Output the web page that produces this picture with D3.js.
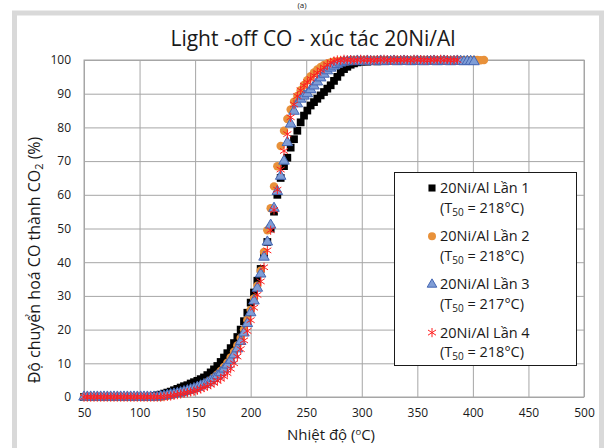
<!DOCTYPE html>
<html>
<head>
<meta charset="utf-8">
<script src="https://cdn.jsdelivr.net/npm/d3@7"></script>
<style>
  body { margin: 0; background: #fff; }
  text { font-family: "Open Sans", "Noto Sans", sans-serif; fill: #1a1a1a; }
</style>
</head>
<body>
<div id="chart"></div>
<script>
// temperature grid (°C), shared by all four runs
const temps = [50,53,56,59,62,65,68,71,74,77,80,83,86,89,92,95,98,101,104,107,110,113,116,119,122,125,128,131,134,137,140,143,146,149,152,155,158,161,164,167,170,173,176,179,182,185,188,191,194,197,200,203,206,209,212,215,218,221,224,227,230,233,236,239,242,245,248,251,254,257,260,263,266,269,272,275,278,281,284,287,290,293,296,299,302,305,308,311,314,317,320,323,326,329,332,335,338,341,344,347,350,353,356,359,362,365,368,371,374,377,380,383,386,389,392,395,398,401,404,407,410];

// conversion (%) per run
const run1 = [0,0,0,0,0,0,0,0,0,0,0,0,0,0,0,0,0,0,0,0,0,
  0.3,0.5,0.7,1,1.3,1.6,2,2.4,2.8,3.2,3.5,4,4.4,4.8,5.3,5.8,6.5,7.3,8.2,9.2,10.4,11.7,13,14.5,16,17.8,20,22.5,25,28,
  31,34.5,38,42,46,50,55,60,65,68.5,71,74,76.5,79,81.5,83.5,85,86.5,87.5,88.5,89.5,90.5,91.5,92.5,93.8,95,96.3,97.3,98,98.6,
  99,99.3,99.5,99.6,99.5,99.7,99.8,99.6,99.7,99.9,99.8,99.7,99.9,100,99.8,99.9,100,99.9,99.8,100,99.9,100,100,99.9,100,99.8,100,100,99.9,100,100,99.9,100];

const run2 = [0,0,0,0,0,0,0,0,0,0,0,0,0,0,0,0,0,0,0,0,0,0,0,0,
  0.2,0.4,0.6,0.8,1,1.2,1.5,1.8,2.1,2.4,2.8,3.3,3.8,4.4,5,5.8,6.7,7.7,8.9,10.2,11.7,13.4,15.3,17.5,20,22.8,25.8,29.2,33,37.5,
  43,49.5,56,62.5,68.5,74.5,79,82.5,85.3,87.6,89.3,91,92.6,94,95.2,96.3,97.2,97.9,98.5,99,99.3,99.5,99.6,
  99.7,99.8,99.6,99.9,100,99.8,99.9,100,99.7,99.9,100,99.9,100,99.8,100,99.9,100,100,99.9,100,99.8,100,99.9,100,100,99.9,100,99.8,100,99.9,100,100,99.9,100,99.9,100,100,99.8,100,99.9,100,100,99.9,100];

const run3 = [0,0,0,0,0,0,0,0,0,0,0,0,0,0,0,0,0,0,0,0,0,0,0,
  0.2,0.3,0.5,0.7,0.9,1.1,1.3,1.6,1.9,2.2,2.5,2.9,3.3,3.7,4.2,4.8,5.5,6.3,7.2,8.3,9.5,10.9,12.5,14.3,16.5,19,21.8,25,28.5,32.3,
  36.5,41.5,46,51,56,61,65.5,70,75.5,81,84.8,87,88.4,89.3,90,91.2,92.3,93.5,94.7,95.8,96.8,97.6,98.2,98.7,99.1,99.4,
  99.5,99.6,99.5,99.7,99.6,99.5,99.7,99.6,99.5,99.6,99.7,99.5,99.6,99.6,99.7,99.5,99.6,99.7,99.6,99.5,99.6,99.7,99.6,99.5,99.6,99.6,99.7,99.5,99.6,99.7,99.6,99.5,99.6,99.7,99.6,99.5,99.6,99.6,99.5];

const run4 = [0,0,0,0,0,0,0,0,0,0,0,0,0,0,0,0,0,0,0,0,0,0,0,0,
  0.1,0.2,0.3,0.5,0.7,0.9,1.1,1.3,1.5,1.7,2,2.4,2.8,3.2,3.7,4.2,4.8,5.4,6.1,7.1,8.4,10,12,14.2,16.8,19.6,22.8,26.5,30.3,34.3,
  38.5,43.5,49.5,55.5,61.5,67.5,73,78,83,86.8,89.3,91,92.4,93.4,94.4,95.4,96.2,97,97.8,98.6,99.3,99.7,
  100,99.9,100.2,100,100.1,99.9,100,100.2,100,100.1,100,99.9,100.1,100,100.2,100,99.9,100.1,100,100,100.1,100,99.9,100.2,100,100.1,100,99.9,100,100.1,100,100.2,100,100.1,99.9,100,100];

const runNames = ["20Ni/Al Lần 1", "20Ni/Al Lần 2", "20Ni/Al Lần 3", "20Ni/Al Lần 4"];
const t50 = ["218°C", "218°C", "217°C", "218°C"];
const xTicks = [50,100,150,200,250,300,350,400,450,500];
const yTicks = [0,10,20,30,40,50,60,70,80,90,100];

const W = 604, H = 448;
const svg = d3.select("#chart").append("svg").attr("width", W).attr("height", H);

// outer frame
svg.append("rect").attr("x", 14.5).attr("y", 13).attr("width", 587).attr("height", 460)
  .attr("fill", "#fff").attr("stroke", "#d9d9d9").attr("stroke-width", 5);
svg.append("text").attr("x", 302).attr("y", 8).attr("text-anchor", "middle")
  .style("font-size", "8px").text("(a)");

const xScale = d3.scaleLinear().domain([50, 500]).range([84, 584]);
const yScale = d3.scaleLinear().domain([0, 100]).range([397, 60]);

const gx = svg.append("g").attr("transform", "translate(0,397)")
  .call(d3.axisBottom(xScale).tickValues(xTicks).tickSize(-337).tickPadding(11).tickSizeOuter(0));
const gy = svg.append("g").attr("transform", "translate(84,0)")
  .call(d3.axisLeft(yScale).tickValues(yTicks).tickSize(-500).tickPadding(13).tickSizeOuter(0));
[gx, gy].forEach(g => {
  g.select(".domain").remove();
  g.selectAll("line").attr("stroke", "#a6a6a6");
  g.selectAll("text").style("font-size", "12px").attr("fill", "#1a1a1a");
});
svg.append("rect").attr("x", 84).attr("y", 60).attr("width", 500).attr("height", 337)
  .attr("fill", "none").attr("stroke", "#a6a6a6");

// markers
const sq = d3.symbol().type(d3.symbolSquare).size(60)();
const circ = d3.symbol().type(d3.symbolCircle).size(56)();
const tri = d3.symbol().type(d3.symbolTriangle).size(48)();
const star = "M0,-4.6V4.6M-4,-2.6L4,2.6M-4,2.6L4,-2.6";

const styles = [
  {path: sq, fill: "#000", stroke: "none", sw: 0},
  {path: circ, fill: "#e8913a", stroke: "none", sw: 0},
  {path: tri, fill: "#7f9dd6", stroke: "#4466b3", sw: 1},
  {path: star, fill: "none", stroke: "#ff1f1f", sw: 1}
];
const runs = [run1, run2, run3, run4];

runs.forEach((vals, k) => {
  const pts = vals.map((v, i) => ({t: temps[i], v: v}));
  const st = styles[k];
  svg.append("g").selectAll("path").data(pts).join("path")
    .attr("transform", d => `translate(${xScale(d.t)},${yScale(d.v)})`)
    .attr("d", st.path)
    .attr("fill", st.fill)
    .attr("stroke", st.stroke)
    .attr("stroke-width", st.sw);
});

// legend
const lg = svg.append("g");
lg.append("rect").attr("x", 394.5).attr("y", 172.5).attr("width", 182).attr("height", 193)
  .attr("fill", "#fff").attr("stroke", "#1a1a1a");
const legSyms = [
  d3.symbol().type(d3.symbolSquare).size(50)(),
  d3.symbol().type(d3.symbolCircle).size(50)(),
  d3.symbol().type(d3.symbolTriangle).size(40)(),
  star
];
runNames.forEach((name, k) => {
  const y0 = 193 + k * 48.2;
  const st = styles[k];
  lg.append("path").attr("transform", `translate(432,${y0 - 5})`).attr("d", legSyms[k])
    .attr("fill", st.fill).attr("stroke", st.stroke).attr("stroke-width", st.sw);
  lg.append("text").attr("x", 440).attr("y", y0).style("font-size", "14.5px").text(name);
  const t2 = lg.append("text").attr("x", 440).attr("y", y0 + 19.5).style("font-size", "14.5px");
  t2.append("tspan").text("(T");
  t2.append("tspan").attr("dy", 3).style("font-size", "10px").text("50");
  t2.append("tspan").attr("dy", -3).text(" = " + t50[k] + ")");
});

// titles
svg.append("text").attr("x", 313).attr("y", 46).attr("text-anchor", "middle")
  .style("font-size", "21px").text("Light -off CO - xúc tác 20Ni/Al");

const xl = svg.append("text").attr("x", 331).attr("y", 440).attr("text-anchor", "middle")
  .style("font-size", "15px");
xl.append("tspan").text("Nhiệt độ (");
xl.append("tspan").attr("dy", -5).style("font-size", "9.5px").text("o");
xl.append("tspan").attr("dy", 5).text("C)");

const yl = svg.append("text").attr("transform", "translate(40,260) rotate(-90)")
  .attr("text-anchor", "middle").style("font-size", "16px");
yl.append("tspan").text("Độ chuyển hoá CO thành CO");
yl.append("tspan").attr("dy", 3).style("font-size", "11px").text("2");
yl.append("tspan").attr("dy", -3).text(" (%)");
</script>
</body>
</html>
